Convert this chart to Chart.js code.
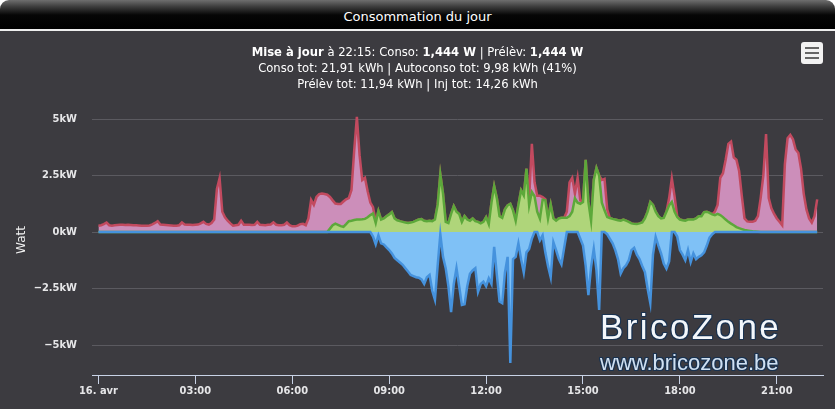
<!DOCTYPE html>
<html>
<head>
<meta charset="utf-8">
<script src="https://cdn.jsdelivr.net/npm/chart.js@4.4.1/dist/chart.umd.min.js"></script>
<style>
  body { margin: 0; background: #fff; font-family: 'DejaVu Sans', sans-serif; }
  #wrap { position: relative; width: 835px; height: 409px; overflow: hidden; }
  #head {
    position: absolute; left: 0; top: 0; width: 835px; height: 29px;
    border-radius: 9px 9px 0 0;
    background: linear-gradient(#6e6e6e 0px, #3a3a3a 7px, #060606 15px, #000 29px);
    color: #fff; font-size: 13px; text-align: center; line-height: 34px;
  }
  #rule { position: absolute; left: 0; top: 29px; width: 835px; height: 2px; background: #eeeeee; }
  #panel { position: absolute; left: 0; top: 31px; width: 835px; height: 378px; background: #3c3b40; }
  #chartBox { position: absolute; left: 0; top: 31px; width: 835px; height: 378px; }
  #sub {
    position: absolute; left: 0; top: 44px; width: 835px; text-align: center;
    color: #fff; font-size: 11.6px; line-height: 16px;
  }
  #menu {
    position: absolute; left: 801px; top: 42px; width: 22px; height: 22px;
    background: #f2f2f2; border-radius: 3px;
  }
  #menu i { position: absolute; left: 4px; width: 14px; height: 2px; background: #666; }
  .mark { position: absolute; left: 600px; font-family: 'Liberation Sans', Arial, sans-serif; white-space: nowrap;
    text-shadow: -1px 0 #1b3350, 1px 0 #1b3350, 0 -1px #1b3350, 0 1px #1b3350, 1px 1px #1b3350, -1px -1px #1b3350, 1px -1px #1b3350, -1px 1px #1b3350; }
  #brand { top: 307px; font-size: 35px; letter-spacing: 2.4px; color: #f3f7fb; line-height: 40px; }
  #site { top: 350px; font-size: 22px; color: #cfe0f2; line-height: 26px; }
</style>
</head>
<body>
<div id="wrap">
  <div id="head">Consommation du jour</div>
  <div id="rule"></div>
  <div id="panel"></div>
  <div id="chartBox"><canvas id="conso_chart" width="835" height="378"></canvas></div>
  <div id="sub">
    <b>Mise à jour</b> à 22:15: Conso: <b>1,444 W</b> | Prélèv: <b>1,444 W</b><br>
    Conso tot: 21,91 kWh | Autoconso tot: 9,98 kWh (41%)<br>
    Prélèv tot: 11,94 kWh | Inj tot: 14,26 kWh
  </div>
  <div id="menu"><i style="top:5px"></i><i style="top:10px"></i><i style="top:15px"></i></div>
  <div class="mark" id="brand">BricoZone</div>
  <div class="mark" id="site">www.bricozone.be</div>
</div>

<script>
// one value every 5 minutes, from 00:00 to 22:15 (kW)
const slotMinutes = 5;

const conso = [
  0.28,0.3,0.35,0.42,0.3,0.28,0.3,0.31,0.32,0.32,0.31,0.32,
  0.31,0.3,0.3,0.29,0.28,0.28,0.28,0.29,0.34,0.4,0.48,0.33,
  0.32,0.31,0.3,0.29,0.28,0.28,0.3,0.42,0.33,0.32,0.32,0.31,
  0.32,0.33,0.38,0.45,0.36,0.33,0.4,0.55,1.9,2.38,0.9,0.65,
  0.5,0.38,0.28,0.3,0.32,0.5,0.32,0.32,0.32,0.31,0.32,0.45,
  0.32,0.31,0.3,0.32,0.33,0.43,0.32,0.3,0.3,0.32,0.42,0.3,
  0.25,0.25,0.28,0.35,0.36,0.3,0.6,1.42,1.2,1.55,1.68,1.7,
  1.68,1.65,1.55,1.4,1.26,1.24,1.24,1.35,1.45,1.5,1.86,3.6,
  5.1,3.4,2.3,2.4,1.8,1.3,1.1,0.45,0.93,0.55,0.6,0.7,
  0.78,0.88,0.6,0.52,0.48,0.45,0.42,0.4,0.42,0.45,0.5,0.55,
  0.57,0.5,0.48,0.5,0.48,0.55,1.2,2.55,1.7,0.45,0.4,0.8,
  1.15,0.9,0.8,0.45,0.7,0.55,0.5,0.6,0.48,0.45,0.38,0.45,
  0.66,0.35,1.3,2.03,1.5,0.7,0.63,1.0,1.18,1.25,0.96,0.5,
  1.2,1.85,1.62,2.8,1.5,3.9,2.2,1.6,1.6,1.55,1.45,0.6,
  1.22,0.6,0.5,0.6,0.63,0.63,0.9,2.2,2.4,1.7,2.4,1.4,
  1.35,3.19,1.33,0.5,2.3,2.83,2.5,2.3,2.35,1.0,0.62,0.58,
  0.55,0.52,0.5,0.55,0.5,0.45,0.38,0.36,0.35,0.38,0.42,0.6,
  0.9,1.33,1.2,0.9,0.7,0.6,0.62,0.9,1.5,2.37,1.6,0.7,
  0.55,0.52,0.5,0.55,0.55,0.55,0.6,0.7,0.7,0.88,0.9,0.85,
  0.78,0.9,1.2,2.4,2.6,3.2,3.9,4.0,3.3,3.2,2.7,1.6,
  0.6,0.47,0.45,0.45,0.5,0.7,1.5,2.5,4.33,1.5,1.05,0.8,
  0.6,0.45,0.3,3.0,4.15,4.3,4.1,3.65,3.5,2.8,1.7,1.0,
  0.6,0.42,0.7,1.444
];

const autoconso = [
  0,0,0,0,0,0,0,0,0,0,0,0,
  0,0,0,0,0,0,0,0,0,0,0,0,
  0,0,0,0,0,0,0,0,0,0,0,0,
  0,0,0,0,0,0,0,0,0,0,0,0,
  0,0,0,0,0,0,0,0,0,0,0,0,
  0,0,0,0,0,0,0,0,0,0,0,0,
  0,0,0,0,0,0,0,0,0,0,0,0,
  0,0,0.15,0.3,0.37,0.32,0.26,0.23,0.35,0.48,0.5,0.53,
  0.55,0.55,0.56,0.58,0.65,0.75,0.82,0.4,0.93,0.55,0.6,0.7,
  0.78,0.88,0.6,0.52,0.48,0.45,0.42,0.4,0.42,0.45,0.5,0.55,
  0.57,0.5,0.48,0.5,0.48,0.55,1.2,2.55,1.7,0.45,0.4,0.8,
  1.15,0.9,0.8,0.45,0.7,0.55,0.5,0.6,0.48,0.45,0.38,0.45,
  0.66,0.35,1.3,2.03,1.5,0.7,0.63,1.0,1.18,1.25,0.96,0.5,
  1.2,1.85,1.62,2.8,1.18,1.77,1.58,0.9,0.59,1.43,1.4,0.6,
  1.22,0.6,0.5,0.6,0.63,0.63,0.63,0.7,0.9,1.49,1.3,1.25,
  1.33,3.19,1.33,0.5,2.3,2.83,2.5,1.3,0.96,0.66,0.62,0.58,
  0.55,0.52,0.5,0.55,0.5,0.45,0.38,0.36,0.35,0.38,0.42,0.6,
  0.9,1.33,1.2,0.9,0.7,0.6,0.62,0.9,1.18,1.33,0.9,0.66,
  0.55,0.52,0.5,0.55,0.55,0.55,0.6,0.7,0.7,0.88,0.9,0.85,
  0.78,0.75,0.8,0.75,0.66,0.55,0.45,0.37,0.3,0.22,0.17,0.13,
  0.09,0.07,0.05,0.03,0.02,0.01,0,0,0,0,0,0,
  0,0,0,0,0,0,0,0,0,0,0,0,
  0,0,0,0
];

const injection = [
  0,0,0,0,0,0,0,0,0,0,0,0,
  0,0,0,0,0,0,0,0,0,0,0,0,
  0,0,0,0,0,0,0,0,0,0,0,0,
  0,0,0,0,0,0,0,0,0,0,0,0,
  0,0,0,0,0,0,0,0,0,0,0,0,
  0,0,0,0,0,0,0,0,0,0,0,0,
  0,0,0,0,0,0,0,0,0,0,0,0,
  0,0,0,0,0,0,0,0,0,0,0,0,
  0,0,0,0,0,0,-0.2,-0.55,-0.15,-0.5,-0.55,-0.68,
  -0.8,-0.95,-1.15,-1.25,-1.35,-1.45,-1.6,-1.75,-1.9,-1.95,-2.0,-2.02,
  -2.1,-2.3,-2.0,-1.9,-2.6,-3.0,-1.5,-0.1,-1.1,-1.6,-2.4,-3.55,
  -2.3,-1.6,-2.4,-3.23,-3.2,-2.4,-1.85,-1.7,-1.6,-2.65,-2.3,-2.2,
  -2.4,-2.05,-2.3,-0.66,-1.9,-3.08,-3.15,-1.8,-1.1,-5.8,-1.2,-1.1,
  -0.5,-1.2,-1.8,-0.9,-0.75,-0.3,0,0,-0.37,-0.15,-0.9,-1.5,
  -2.0,-0.45,-0.8,-1.18,-1.43,-0.7,0,0,0,0,0,-0.3,
  -0.6,-1.5,-2.79,-1.55,-0.74,-1.7,-3.45,0,0,-0.1,-0.3,-0.5,
  -0.8,-1.2,-1.84,-1.6,-1.47,-1.25,-0.8,-0.7,-1.0,-1.2,-1.5,-1.77,
  -2.5,-3.14,-1.0,-0.22,-0.6,-0.95,-1.4,-1.62,-1.3,0,0,-0.2,
  -0.8,-1.0,-1.25,-0.8,-1.33,-0.95,-1.2,-1.1,-1.03,-0.9,-0.6,-0.25,
  -0.1,0,0,0,0,0,0,0,0,0,0,0,
  0,0,0,0,0,0,0,0,0,0,0,0,
  0,0,0,0,0,0,0,0,0,0,0,0,
  0,0,0,0
];

const hourTicks = [0, 3, 6, 9, 12, 15, 18, 21];
const hourLabels = ['16. avr', '03:00', '06:00', '09:00', '12:00', '15:00', '18:00', '21:00'];
const kwTicks = [-5, -2.5, 0, 2.5, 5];
const kwLabels = ['\u22125kW', '\u22122.5kW', '0kW', '2.5kW', '5kW'];

function toPoints(values) {
  return values.map((v, i) => ({ x: i * slotMinutes / 60, y: v }));
}

const axisFont = { family: "'DejaVu Sans Condensed', 'DejaVu Sans', sans-serif", size: 11, weight: 'bold' };

const ctx = document.getElementById('conso_chart').getContext('2d');
new Chart(ctx, {
  type: 'line',
  data: {
    datasets: [
      {
        label: 'Injection',
        data: toPoints(injection),
        borderColor: '#4592dd',
        backgroundColor: '#7fc1f6',
        borderWidth: 2.5,
        fill: 'origin',
        order: 1
      },
      {
        label: 'Autoconso',
        data: toPoints(autoconso),
        borderColor: '#5ca83a',
        backgroundColor: '#afd57a',
        borderWidth: 2.5,
        fill: 'origin',
        order: 2
      },
      {
        label: 'Conso',
        data: toPoints(conso),
        borderColor: '#c24a5f',
        backgroundColor: '#cc8eba',
        borderWidth: 2.5,
        fill: 'origin',
        order: 3
      }
    ]
  },
  options: {
    responsive: false,
    animation: false,
    parsing: false,
    elements: { point: { radius: 0 }, line: { tension: 0 } },
    layout: { padding: { top: 74, right: 12, left: 0, bottom: 0 } },
    plugins: { legend: { display: false }, tooltip: { enabled: false } },
    scales: {
      x: {
        type: 'linear',
        min: -0.2,
        max: 22.43,
        afterFit: (scale) => { scale.height = 34; },
        afterBuildTicks: (scale) => { scale.ticks = hourTicks.map(v => ({ value: v })); },
        grid: { drawOnChartArea: false, drawTicks: true, tickLength: 9, color: '#c8d2e6' },
        border: { display: true, color: '#c8d2e6', width: 1 },
        ticks: {
          color: '#e6e6e8',
          font: axisFont,
          padding: 1,
          maxRotation: 0,
          autoSkip: false,
          callback: (v) => hourLabels[hourTicks.indexOf(v)]
        }
      },
      y: {
        min: -6.327,
        max: 5.62,
        afterFit: (scale) => { scale.width = 92; },
        afterBuildTicks: (scale) => { scale.ticks = kwTicks.map(v => ({ value: v })); },
        grid: { color: '#5b5a60', lineWidth: 1, drawTicks: false },
        border: { display: false },
        ticks: {
          color: '#e6e6e8',
          font: axisFont,
          padding: 15,
          callback: (v) => kwLabels[kwTicks.indexOf(v)]
        },
        title: {
          display: true,
          text: 'Watt',
          color: '#f2f2f2',
          font: { family: "'DejaVu Sans', sans-serif", size: 12 },
          padding: { top: 15, bottom: 0 }
        }
      }
    }
  }
});
</script>
</body>
</html>
